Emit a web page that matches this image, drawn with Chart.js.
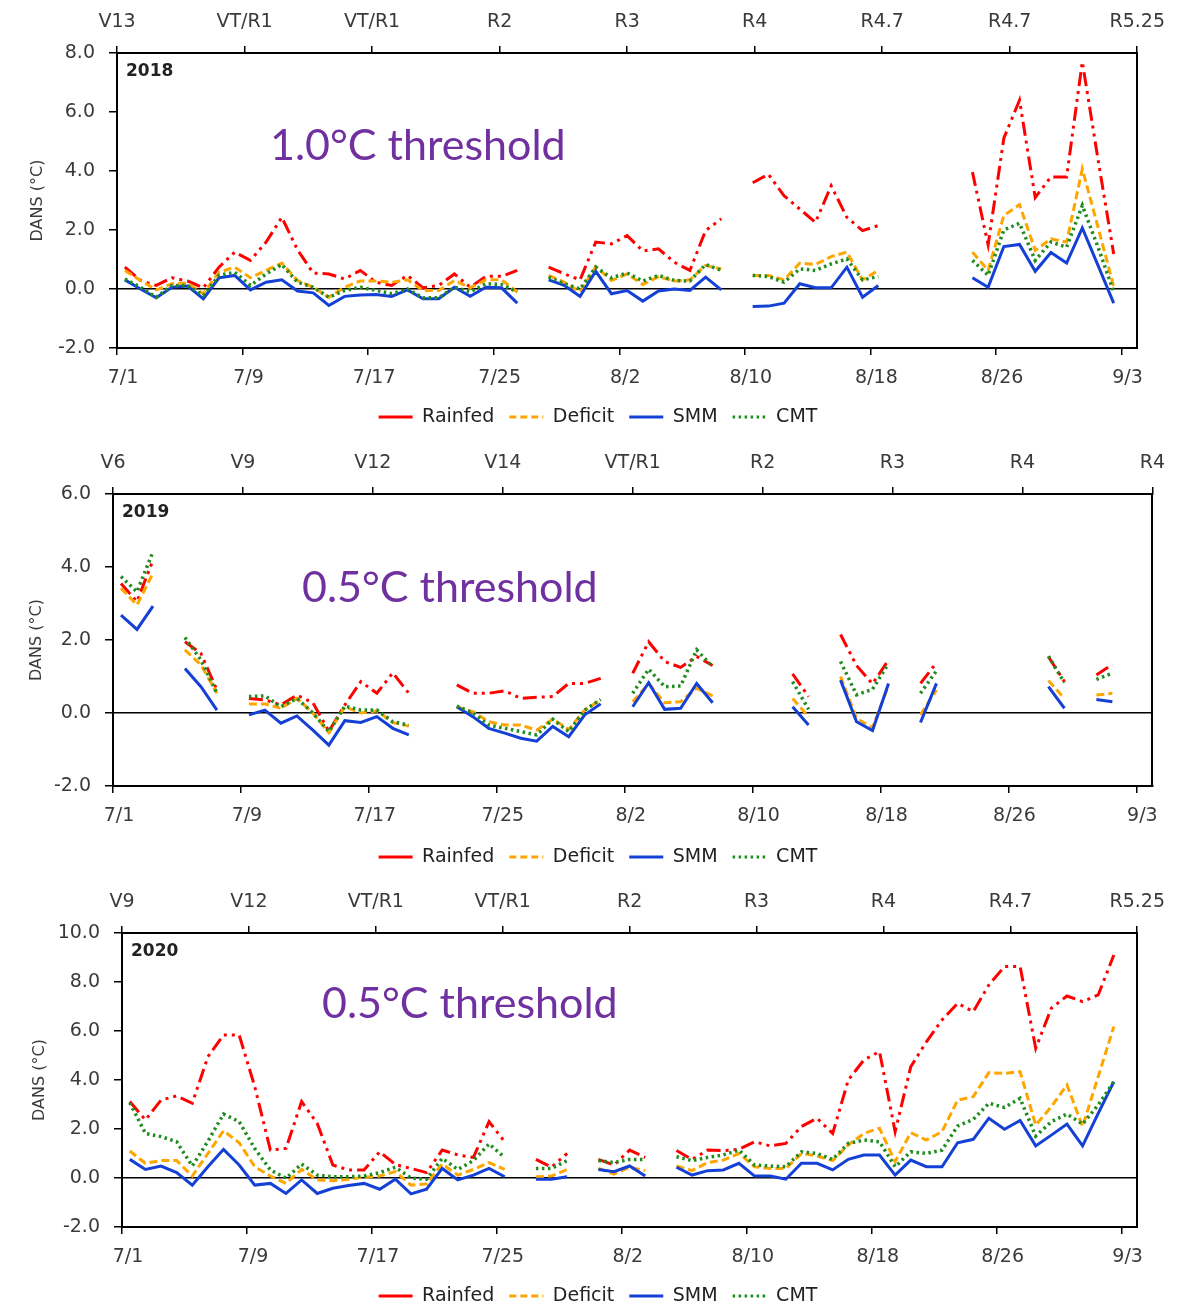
<!DOCTYPE html>
<html>
<head>
<meta charset="utf-8">
<script src="https://cdn.jsdelivr.net/npm/chart.js@4.4.1/dist/chart.umd.min.js"></script>
<style>
  html, body { margin: 0; background: #fff; overflow: hidden; }
  .panel { position: absolute; left: 0; width: 1178px; height: 440px; }
</style>
</head>
<body>
<div class="panel" style="top:0"><canvas id="chart2018"></canvas></div>
<div class="panel" style="top:440px"><canvas id="chart2019"></canvas></div>
<div class="panel" style="top:880px"><canvas id="chart2020"></canvas></div>
<script>
// ---- Data (one value per day, 7/1 .. 9/3; null = no data) ----
const dateTicks = ['7/1', '7/9', '7/17', '7/25', '8/2', '8/10', '8/18', '8/26', '9/3'];
const seriesNames = ['Rainfed', 'Deficit', 'SMM', 'CMT'];

const stages2018 = ['V13', 'VT/R1', 'VT/R1', 'R2', 'R3', 'R4', 'R4.7', 'R4.7', 'R5.25'];
const stages2019 = ['V6', 'V9', 'V12', 'V14', 'VT/R1', 'R2', 'R3', 'R4', 'R4'];
const stages2020 = ['V9', 'V12', 'VT/R1', 'VT/R1', 'R2', 'R3', 'R4', 'R4.7', 'R5.25'];

const rainfed2018 = [0.74, 0.29, 0.12, 0.38, 0.27, 0.04, 0.74, 1.25, 0.97, 1.59, 2.43, 1.33, 0.54, 0.51, 0.34, 0.63, 0.23, 0.12, 0.46, 0.04, 0.12, 0.51, 0.06, 0.43, 0.43, 0.63,
  null,
  0.74, 0.51, 0.31, 1.59, 1.53, 1.81, 1.29, 1.36, 0.91, 0.63, 1.98, 2.38,
  null,
  3.6, 3.89, 3.16, 2.71, 2.26, 3.5, 2.43, 1.98, 2.15,
  null, null, null, null, null,
  3.96, 1.5, 5.11, 6.4, 3.1, 3.8, 3.8, 7.7, 4.4, 1.19, null];
const deficit2018 = [0.63, 0.29, -0.03, 0.18, 0.2, -0.16, 0.57, 0.74, 0.38, 0.63, 0.88, 0.29, 0.06, -0.28, 0.06, 0.27, 0.27, 0.23, 0.31, -0.05, -0.05, 0.29, 0.04, 0.31, 0.31, -0.1,
  null,
  0.46, 0.23, -0.1, 0.76, 0.29, 0.51, 0.15, 0.42, 0.27, 0.31, 0.8, 0.68,
  null,
  0.46, 0.46, 0.31, 0.88, 0.83, 1.1, 1.25, 0.31, 0.63,
  null, null, null, null, null,
  1.25, 0.63, 2.49, 2.86, 1.31, 1.7, 1.59, 4.07, 2.1, 0.08, null];
const smm2018 = [0.31, 0.0, -0.3, 0.06, 0.1, -0.33, 0.38, 0.46, -0.03, 0.23, 0.31, -0.07, -0.13, -0.56, -0.25, -0.2, -0.19, -0.25, -0.03, -0.33, -0.33, 0.06, -0.25, 0.06, 0.04, -0.48,
  null,
  0.31, 0.12, -0.25, 0.6, -0.16, -0.05, -0.41, -0.07, 0.0, -0.05, 0.4, -0.03,
  null,
  -0.59, -0.58, -0.48, 0.18, 0.04, 0.04, 0.74, -0.28, 0.12,
  null, null, null, null, null,
  0.38, 0.06, 1.44, 1.51, 0.6, 1.24, 0.88, 2.07, 0.8, -0.48, null];
const cmt2018 = [0.34, 0.06, -0.28, 0.12, 0.12, -0.22, 0.46, 0.57, 0.12, 0.51, 0.83, 0.23, 0.06, -0.28, -0.05, 0.06, -0.05, -0.16, 0.0, -0.3, -0.3, 0.06, -0.1, 0.18, 0.15, -0.1,
  null,
  0.4, 0.18, 0.0, 0.74, 0.38, 0.54, 0.27, 0.46, 0.29, 0.27, 0.83, 0.63,
  null,
  0.46, 0.42, 0.23, 0.68, 0.63, 0.85, 1.02, 0.31, 0.42,
  null, null, null, null, null,
  0.97, 0.46, 2.0, 2.23, 0.97, 1.59, 1.42, 2.83, 1.42, -0.1, null];

const rainfed2019 = [3.55, 3.05, 4.19, null, 1.95, 1.63, 0.63, null,
  0.4, 0.36, 0.22, 0.49, 0.28, -0.5, 0.22, 0.86, 0.54, 1.1, 0.54,
  null, null,
  0.77, 0.54, 0.54, 0.61, 0.4, 0.43, 0.45, 0.81, 0.81, 0.95,
  null,
  1.09, 1.95, 1.41, 1.25, 1.55, 1.3,
  null, null, null, null,
  1.07, 0.45,
  null,
  2.15, 1.3, 0.8, 1.45,
  null,
  0.81, 1.38,
  null, null, null, null, null, null,
  1.54, 0.86,
  null,
  1.04, 1.33,
  null, null];
const deficit2019 = [3.42, 2.96, 3.83, null, 1.73, 1.32, 0.54, null,
  0.25, 0.25, 0.13, 0.4, 0.0, -0.54, 0.17, 0.0, 0.06, -0.26, -0.36,
  null, null,
  0.17, 0.04, -0.24, -0.33, -0.33, -0.47, -0.17, -0.45, 0.08, 0.36,
  null,
  0.31, 0.81, 0.28, 0.31, 0.68, 0.47,
  null, null, null, null,
  0.4, -0.1,
  null,
  1.0, -0.15, -0.4, 0.75,
  null,
  -0.05, 0.63,
  null, null, null, null, null, null,
  0.89, 0.4,
  null,
  0.49, 0.54,
  null, null];
const smm2019 = [2.68, 2.29, 2.93, null, 1.22, 0.72, 0.08, null,
  -0.05, 0.08, -0.28, -0.08, -0.47, -0.88, -0.21, -0.26, -0.1, -0.42, -0.6,
  null, null,
  0.17, -0.1, -0.42, -0.55, -0.69, -0.77, -0.37, -0.65, -0.05, 0.25,
  null,
  0.17, 0.83, 0.1, 0.13, 0.81, 0.28,
  null, null, null, null,
  0.17, -0.33,
  null,
  0.9, -0.24, -0.48, 0.81,
  null,
  -0.26, 0.81,
  null, null, null, null, null, null,
  0.72, 0.13,
  null,
  0.37, 0.31,
  null, null];
const cmt2019 = [3.74, 3.32, 4.42, null, 2.07, 1.45, 0.54, null,
  0.45, 0.47, 0.17, 0.4, 0.0, -0.51, 0.19, 0.08, 0.08, -0.24, -0.33,
  null, null,
  0.19, 0.0, -0.33, -0.42, -0.51, -0.6, -0.17, -0.51, 0.08, 0.37,
  null,
  0.54, 1.2, 0.72, 0.74, 1.73, 1.27,
  null, null, null, null,
  0.86, 0.1,
  null,
  1.41, 0.5, 0.65, 1.36,
  null,
  0.54, 1.16,
  null, null, null, null, null, null,
  1.56, 0.83,
  null,
  0.92, 1.09,
  null, null];

const rainfed2020 = [3.12, 2.37, 3.18, 3.35, 3.05, 4.95, 5.84, 5.84, 3.73, 1.14, 1.21, 3.12, 2.23, 0.53, 0.33, 0.33, 1.07, 0.55, 0.39, 0.22, 1.14, 0.94, 0.84, 2.3, 1.48,
  null,
  0.76, 0.44, 1.0,
  null,
  0.76, 0.53, 1.14, 0.84,
  null,
  1.12, 0.76, 1.14, 1.12, 1.17, 1.48, 1.31, 1.41, 2.1, 2.44, 1.82, 4.0, 4.82, 5.16, 1.89, 4.54, 5.56, 6.45, 7.13, 6.79, 7.88, 8.63, 8.63, 5.29, 6.93, 7.43, 7.2, 7.47, 9.1,
  null];
const deficit2020 = [1.1, 0.6, 0.71, 0.71, 0.08, 1.0, 1.93, 1.44, 0.46, 0.08, -0.22, 0.35, -0.08, -0.11, -0.05, 0.03, 0.08, 0.26, -0.29, -0.24, 0.57, 0.12, 0.35, 0.63, 0.35,
  null,
  0.05, 0.08, 0.35,
  null,
  0.39, 0.16, 0.44, 0.3,
  null,
  0.49, 0.3, 0.63, 0.73, 1.0, 0.46, 0.39, 0.39, 1.0, 0.9, 0.71, 1.35, 1.82, 2.03, 0.67, 1.85, 1.55, 1.89, 3.18, 3.32, 4.3, 4.27, 4.34, 2.16, 2.91, 3.8, 2.1, 4.14, 6.18,
  null];
const smm2020 = [0.76, 0.35, 0.49, 0.22, -0.29, 0.46, 1.17, 0.53, -0.29, -0.22, -0.63, -0.08, -0.63, -0.42, -0.31, -0.22, -0.46, -0.05, -0.65, -0.46, 0.39, -0.08, 0.12, 0.39, 0.05,
  null,
  -0.05, -0.05, 0.05,
  null,
  0.35, 0.26, 0.49, 0.08,
  null,
  0.44, 0.12, 0.3, 0.33, 0.6, 0.08, 0.08, -0.05, 0.6, 0.6, 0.33, 0.76, 0.94, 0.94, 0.12, 0.73, 0.46, 0.46, 1.44, 1.58, 2.44, 1.99, 2.35, 1.31, 1.75, 2.2, 1.31, 2.64, 3.93,
  null];
const cmt2020 = [3.07, 1.82, 1.69, 1.48, 0.49, 1.5, 2.61, 2.3, 1.2, 0.33, -0.01, 0.57, 0.12, 0.05, 0.05, 0.08, 0.22, 0.44, 0.0, -0.05, 0.8, 0.35, 0.71, 1.39, 0.84,
  null,
  0.39, 0.39, 0.71,
  null,
  0.71, 0.63, 0.76, 0.76,
  null,
  0.87, 0.71, 0.84, 0.94, 1.14, 0.53, 0.49, 0.46, 1.07, 1.0, 0.76, 1.41, 1.55, 1.48, 0.46, 1.07, 1.0, 1.14, 2.12, 2.39, 3.05, 2.88, 3.25, 1.71, 2.3, 2.61, 2.2, 2.98, 3.93,
  null];

// ---- Styles ----
Chart.defaults.font.family = "'DejaVu Sans', sans-serif";
const tickFont = { size: 19 };
const textColor = '#3a3a3a';
const lineStyles = [
  { color: '#FF0000', dash: [14, 5, 3, 5, 3, 5], width: 3 },
  { color: '#FFA500', dash: [8, 4], width: 3 },
  { color: '#1440D6', dash: [], width: 3 },
  { color: '#1E8C1E', dash: [2.5, 3.5], width: 3.5 },
];
// legend samples: Rainfed shows solid, others keep their dash
const legendDash = [[], [7, 4], [], [2.5, 3.5]];

// year tag + threshold note inside each panel
const panelText = {
  id: 'panelText',
  afterDraw(chart, args, opts) {
    const ctx = chart.ctx, a = chart.chartArea;
    ctx.save();
    ctx.textBaseline = 'middle';
    ctx.fillStyle = '#222';
    ctx.font = "bold 17px 'DejaVu Sans'";
    ctx.fillText(opts.year, a.left + 9, a.top + 19);
    ctx.fillStyle = '#7030A0';
    ctx.font = '43px Lato';
    ctx.fillText(opts.note, opts.x, opts.y);
    ctx.restore();
  }
};

function makePanel(canvasId, p) {
  const datasets = p.series.map((vals, k) => ({
    label: seriesNames[k],
    data: vals.map((v, i) => ({ x: i + 0.5, y: v })),
    borderColor: lineStyles[k].color,
    backgroundColor: lineStyles[k].color,
    borderDash: lineStyles[k].dash,
    borderWidth: lineStyles[k].width,
    pointRadius: 0,
    pointHoverRadius: 0,
    spanGaps: false,
    tension: 0,
    order: 4 - k,
  }));

  const edgeGrid = { drawOnChartArea: false, tickLength: 7, tickColor: '#000', lineWidth: 1.5 };
  const edgeBorder = { color: '#000', width: 2 };
  // left padding chosen so the legend sits centred like the original;
  // y axis box fills the rest up to the plot's left edge
  const padLeft = p.padLeft;

  new Chart(document.getElementById(canvasId), {
    type: 'line',
    data: { datasets },
    plugins: [panelText],
    options: {
      responsive: true,
      maintainAspectRatio: false,
      animation: false,
      layout: { padding: { left: padLeft, right: 1178 - p.box.right, top: 0, bottom: p.padBottom } },
      plugins: {
        tooltip: { enabled: false },
        panelText: { year: p.year, note: p.note, x: p.noteX, y: p.noteY },
        legend: {
          position: 'bottom',
          labels: {
            color: '#222',
            font: tickFont,
            usePointStyle: true,
            pointStyle: 'line',
            pointStyleWidth: 34,
            padding: 15,
            sort: (a, b) => a.datasetIndex - b.datasetIndex,
            generateLabels: chart => Chart.defaults.plugins.legend.labels.generateLabels(chart)
              .map(l => Object.assign(l, { lineDash: legendDash[l.datasetIndex], lineWidth: 3 })),
          },
        },
      },
      scales: {
        x: {
          type: 'linear', position: 'bottom', min: 0, max: 65,
          ticks: {
            stepSize: 8, includeBounds: false, autoSkip: false, maxRotation: 0,
            padding: 12, labelOffset: 6, color: textColor, font: tickFont,
            callback: v => dateTicks[v / 8],
          },
          grid: edgeGrid,
          border: edgeBorder,
          afterFit: s => { s.height = p.xAxisH; },
        },
        xTop: {
          type: 'linear', position: 'top', min: 0, max: 8,
          ticks: {
            stepSize: 1, autoSkip: false, maxRotation: 0, padding: 13,
            color: textColor, font: tickFont,
            callback: v => p.stages[v],
          },
          grid: edgeGrid,
          border: edgeBorder,
          afterFit: s => { s.height = p.box.top; },
        },
        y: {
          type: 'linear', position: 'left', min: p.yMin, max: p.yMax,
          ticks: { stepSize: 2, padding: 14, color: textColor, font: tickFont, callback: v => v.toFixed(1) },
          grid: {
            color: c => (c.tick && c.tick.value === 0 ? '#000' : 'rgba(0,0,0,0)'),
            lineWidth: 1.5, tickColor: '#000', tickLength: 8,
          },
          border: edgeBorder,
          title: {
            display: true, text: 'DANS (°C)', color: textColor, font: { size: 16 },
            padding: { top: p.titleX - padLeft - 9.6, bottom: 0 },
          },
          afterFit: s => { s.width = p.box.left - padLeft; },
        },
        yRight: {
          type: 'linear', position: 'right', min: p.yMin, max: p.yMax,
          ticks: { display: false },
          grid: { drawOnChartArea: false, drawTicks: false },
          border: edgeBorder,
          afterFit: s => { s.width = 0; },
        },
      },
    },
  });
}

makePanel('chart2018', {
  year: '2018', note: '1.0°C threshold', noteX: 270, noteY: 146,
  stages: stages2018, series: [rainfed2018, deficit2018, smm2018, cmt2018],
  yMin: -2, yMax: 8, box: { left: 117, right: 1144, top: 53 },
  padLeft: 52, xAxisH: 44.5, padBottom: 3.5, titleX: 38,
});
makePanel('chart2019', {
  year: '2019', note: '0.5°C threshold', noteX: 302, noteY: 148,
  stages: stages2019, series: [rainfed2019, deficit2019, smm2019, cmt2019],
  yMin: -2, yMax: 6, box: { left: 113, right: 1158, top: 54 },
  padLeft: 38, xAxisH: 46.5, padBottom: 3.5, titleX: 37,
});
makePanel('chart2020', {
  year: '2020', note: '0.5°C threshold', noteX: 322, noteY: 124,
  stages: stages2020, series: [rainfed2020, deficit2020, smm2020, cmt2020],
  yMin: -2, yMax: 10, box: { left: 122, right: 1144, top: 53 },
  padLeft: 52, xAxisH: 44.5, padBottom: 4.5, titleX: 40,
});
</script>
</body>
</html>
